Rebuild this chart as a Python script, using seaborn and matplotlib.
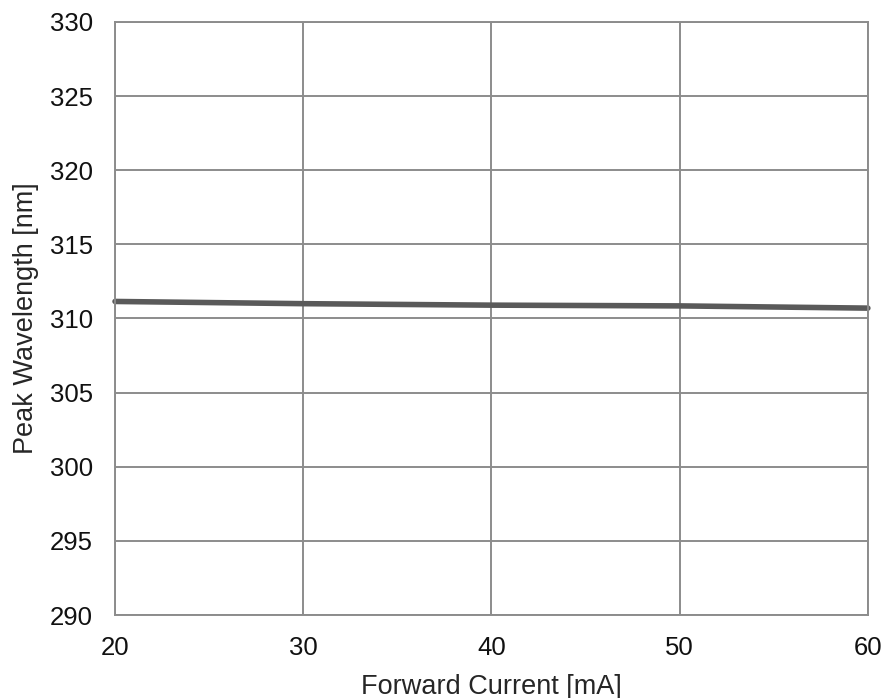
import pandas as pd
import seaborn as sns
import matplotlib
matplotlib.use("Agg")
import matplotlib.pyplot as plt

# data
current_ma = [20, 30, 40, 50, 60]
peak_nm = [311.15, 311.0, 310.9, 310.85, 310.7]
x_ticks = [20, 30, 40, 50, 60]
y_ticks = [290, 295, 300, 305, 310, 315, 320, 325, 330]

df = pd.DataFrame({"current": current_ma, "peak": peak_nm})

sns.set_style("white")
plt.rcParams["font.family"] = ["Liberation Sans", "DejaVu Sans"]

fig = plt.figure(figsize=(8.82, 6.98), dpi=100)
ax = fig.add_axes([0.1304, 0.1189, 0.984 - 0.1304, 0.9685 - 0.1189])

sns.lineplot(data=df, x="current", y="peak", ax=ax, color="#5a5a5a",
             linewidth=4.0, clip_on=False)

ax.set_xlim(20, 60)
ax.set_ylim(290, 330)
ax.set_xticks(x_ticks)
ax.set_yticks(y_ticks)
ax.grid(True, color="#8c8c8c", linewidth=1.4)
for s in ax.spines.values():
    s.set_color("#8c8c8c")
    s.set_linewidth(1.4)
ax.tick_params(axis="both", length=0, labelsize=18.5, colors="#111111")
ax.tick_params(axis="y", pad=16)
ax.tick_params(axis="x", pad=15)
ax.set_xlabel("Forward Current [mA]", fontsize=19.5, labelpad=10)
ax.set_ylabel("Peak Wavelength [nm]", fontsize=19.5, labelpad=8)

fig.savefig("out.png", dpi=100)
